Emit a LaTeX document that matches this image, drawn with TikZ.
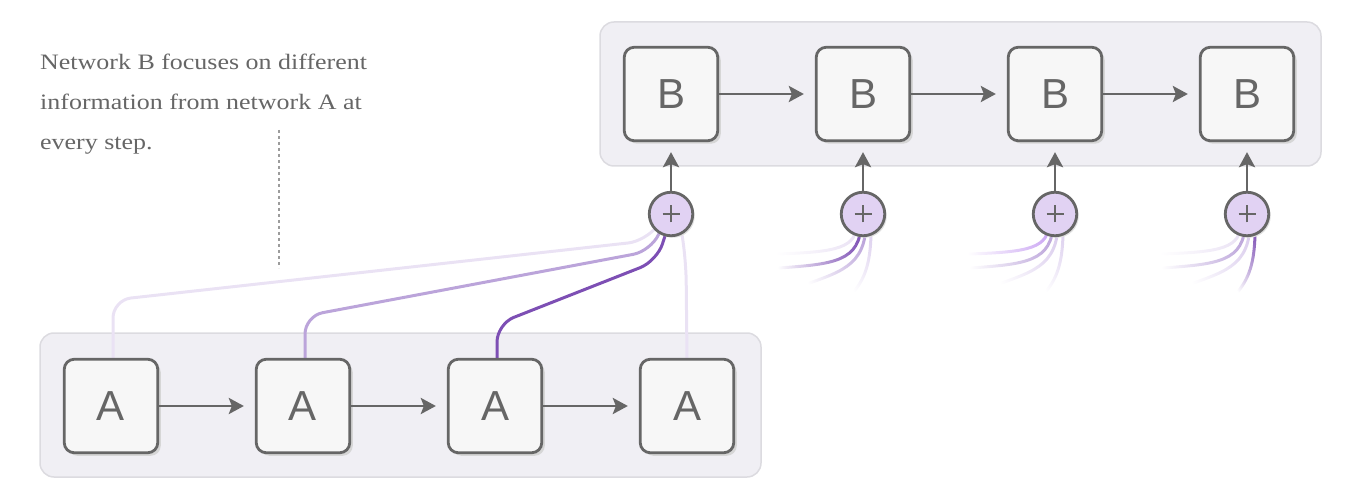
\documentclass[tikz,border=0pt]{standalone}
\usepackage{fontspec}
\setmainfont{Liberation Serif}
\newfontfamily\boxfont{Liberation Sans}
\usetikzlibrary{arrows.meta,shadows,fadings}

\definecolor{ink}{HTML}{666666}
\definecolor{panel}{HTML}{F0EFF4}
\definecolor{panelrule}{HTML}{DCDBE0}
\definecolor{boxfill}{HTML}{F7F7F7}
\definecolor{sumfill}{HTML}{E1D2F3}
\definecolor{attdark}{HTML}{7D4FB4}
\definecolor{attmid}{HTML}{BBA4DA}
\definecolor{attlight}{HTML}{DCCFEE}
\definecolor{attfaint}{HTML}{EAE2F4}
\definecolor{attbright}{HTML}{CBA6F3}

% tails of the attention lines fade out away from the sum node
\tikzfading[name=tailfade, left color=transparent!100, middle color=transparent!25, right color=transparent!0]

\tikzset{
  panelbox/.style={fill=panel, draw=panelrule, line width=1.5pt, rounded corners=14pt},
  cell/.style={draw=ink, fill=boxfill, line width=2.8pt, rounded corners=10pt,
    minimum width=93.5pt, minimum height=93.5pt, inner sep=0pt,
    font=\boxfont\fontsize{42}{42}\selectfont, text=ink,
    drop shadow={shadow xshift=3pt, shadow yshift=-3pt, fill=black!16, opacity=1}},
  sumnode/.style={circle, draw=ink, fill=sumfill, line width=2.8pt,
    minimum size=43.5pt, inner sep=0pt,
    drop shadow={shadow xshift=2pt, shadow yshift=-2pt, fill=black!12, opacity=1}},
  plussign/.style={path picture={
    \draw[ink, line width=2.5pt]
      ([xshift=-8.5pt]path picture bounding box.center) -- ([xshift=8.5pt]path picture bounding box.center)
      ([yshift=-8.5pt]path picture bounding box.center) -- ([yshift=8.5pt]path picture bounding box.center);}},
  flow/.style={draw=ink, line width=2.8pt, -{Stealth[length=15pt,width=16pt,inset=3pt]}},
  att/.style={line width=3pt, line cap=round},
  fadetail/.style={path fading=tailfade, fading angle=#1},
  caption/.style={anchor=base west, inner sep=0pt, text=ink,
    font=\fontsize{22}{40}\selectfont\addfontfeature{FakeStretch=1.18}},
}

\begin{document}
\begin{tikzpicture}[x=1pt, y=-1pt]
\useasboundingbox (0,0) rectangle (1348,494);

% containers
\draw[panelbox] (600,22) rectangle (1321,166);
\draw[panelbox] (40,333) rectangle (761,477);

% caption and its guide line
\node[caption] (cap1) at (40,69.5) {Network B focuses on different};
\node[caption] (cap2) at (40,109.5) {information from network A at};
\node[caption] (cap3) at (40,149.5) {every step.};
\coordinate (guidetop) at (279,130);
\coordinate (guidebot) at (279,268);
\draw[ink!65, line width=1.4pt, dash pattern=on 3pt off 3pt] (guidetop) -- (guidebot);

% node positions
\coordinate (pa1) at (111,406);
\coordinate (pa2) at (303,406);
\coordinate (pa3) at (495,406);
\coordinate (pa4) at (687,406);
\coordinate (ps1) at (671,214);

% attention from the A cells into the first sum
\draw[att, attfaint, rounded corners=18pt] ([xshift=2pt]pa1 |- 0,360) -- (113,300) -- (646,241) -- ([xshift=-5pt]ps1);
\draw[att, attmid, rounded corners=18pt] ([xshift=2pt]pa2 |- 0,360) -- (305,316) -- (651,251) -- ([xshift=-3pt]ps1);
\draw[att, attdark, rounded corners=18pt] ([xshift=2pt]pa3 |- 0,360) -- (497,324) -- (657,261) -- ([xshift=1pt]ps1);
\draw[att, attfaint, rounded corners=20pt] (pa4 |- 0,360) -- (686,262) -- ([xshift=8pt]ps1);

% attention tails for the later sums
\foreach \cx/\ca/\cb/\cc/\cd in {863/attfaint/attdark/attmid/attlight,
                                 1055/attbright/attmid/attlight/attlight,
                                 1247/attfaint/attmid/attlight/attdark}{
  \draw[att, \ca, fadetail=0]  (\cx-6,222) .. controls (\cx-6,248) and (\cx-25,252) .. (\cx-86,254);
  \draw[att, \cb, fadetail=0]  (\cx-2,222) .. controls (\cx-2,262) and (\cx-30,264) .. (\cx-84,268);
  \draw[att, \cc, fadetail=25] (\cx+3,222) .. controls (\cx+3,268) and (\cx-25,272) .. (\cx-64,287);
  \draw[att, \cd, fadetail=65] (\cx+8,222) .. controls (\cx+9,272) and (\cx-2,282) .. (\cx-13,297);
}

% cells
\node[cell] (a1) at (pa1) {A};
\node[cell] (a2) at (pa2) {A};
\node[cell] (a3) at (pa3) {A};
\node[cell] (a4) at (pa4) {A};
\node[cell] (b1) at (671,94) {B};
\node[cell] (b2) at (863,94) {B};
\node[cell] (b3) at (1055,94) {B};
\node[cell] (b4) at (1247,94) {B};

% sums
\node[sumnode, plussign] (s1) at (ps1) {};
\node[sumnode, plussign] (s2) at (863,214) {};
\node[sumnode, plussign] (s3) at (1055,214) {};
\node[sumnode, plussign] (s4) at (1247,214) {};

% recurrent arrows
\draw[flow, shorten >=11pt] (a1) -- (a2);
\draw[flow, shorten >=11pt] (a2) -- (a3);
\draw[flow, shorten >=11pt] (a3) -- (a4);
\draw[flow, shorten >=11pt] (b1) -- (b2);
\draw[flow, shorten >=11pt] (b2) -- (b3);
\draw[flow, shorten >=11pt] (b3) -- (b4);

% sums feed network B
\foreach \i in {1,2,3,4}{
  \draw[flow, shorten >=10pt] (s\i) -- (b\i);
}
\end{tikzpicture}
\end{document}
